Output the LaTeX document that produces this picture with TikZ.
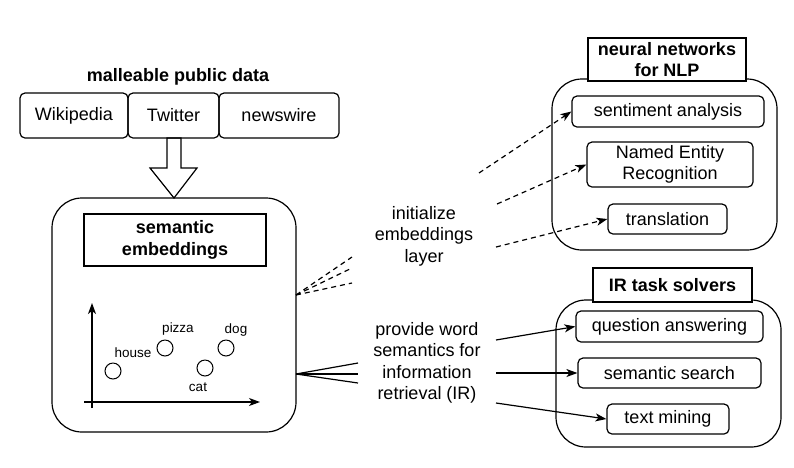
\documentclass[tikz,border=0pt]{standalone}
\usepackage{fontspec}
\setmainfont{Liberation Sans}
\usepackage{tikz}
\usetikzlibrary{calc,arrows.meta}

\begin{document}
\begin{tikzpicture}[x=1pt,y=-1pt,line width=1.2pt]
        \tikzstyle{every node}=[font=\fontsize{18}{21.5}\selectfont,inner sep=0pt,align=center]
        \tikzstyle{box}=[draw,rounded corners=5pt]
        \tikzstyle{title}=[draw,fill=white,font=\fontsize{18}{21.5}\selectfont\bfseries]
        \tikzstyle{tag}=[font=\fontsize{13.5}{16}\selectfont]
        \tikzstyle{word}=[draw,circle,minimum size=16pt,line width=1pt]
        \tikzstyle{arr}=[-{Stealth[length=11pt,width=8pt,inset=3pt]}]
        \tikzstyle{dashline}=[dash pattern=on 5pt off 4pt]
        \useasboundingbox (0,0) rectangle (794,467);
        % public data
        \node[font=\fontsize{18}{21.5}\selectfont\bfseries] (data) at (178,77) {malleable public data};
        \node[box,minimum width=108pt,minimum height=45pt] (wiki) at (74,115.5) {Wikipedia};
        \node[box,minimum width=91pt,minimum height=45pt] (twit) at (173.5,115.5) {Twitter};
        \node[box,minimum width=120pt,minimum height=45pt] (news) at (279,115.5) {newswire};
        \draw[line join=miter] (167,138) -- (181,138) -- (181,168) -- (197,168) -- (174,198)
            -- (150,168) -- (167,168) -- cycle;
        % embeddings
        \draw[rounded corners=30pt] (52,198) rectangle (296,432);
        \node[title,minimum width=182pt,minimum height=52pt] (emb) at (175,240) {semantic\\embeddings};
        \draw[arr] (92,408) -- (92,303);
        \draw[arr] (84,402) -- (260,402);
        \node[word] (house) at (113,371) {};
        \node[word] (pizza) at (165,348) {};
        \node[word] (cat) at (205,368) {};
        \node[word] (dog) at (226,348) {};
        \node[tag] at (133,353) {house};
        \node[tag] at (178,329) {pizza};
        \node[tag] at (198,387) {cat};
        \node[tag] at (236,330) {dog};
        % neural networks
        \draw[rounded corners=30pt] (552,79) rectangle (777,250);
        \node[title,minimum width=158pt,minimum height=43pt] (nn) at (667,59.5) {neural networks\\for NLP};
        \node[box,minimum width=192pt,minimum height=31pt] (sent) at (668,111.5) {sentiment analysis};
        \node[box,minimum width=166pt,minimum height=45pt] (ner) at (670,164.5) {Named Entity\\Recognition};
        \node[box,minimum width=119pt,minimum height=30pt] (trans) at (667.5,219) {translation};
        % IR task solvers
        \draw[rounded corners=30pt] (556,300) rectangle (781,447);
        \node[title,minimum width=159pt,minimum height=34pt] (ir) at (672.5,285) {IR task solvers};
        \node[box,minimum width=187pt,minimum height=31pt] (qa) at (669.5,326.5) {question answering};
        \node[box,minimum width=183pt,minimum height=30pt] (ss) at (669.5,373) {semantic search};
        \node[box,minimum width=122pt,minimum height=30pt] (tm) at (668,419) {text mining};
        % connectors
        \node (init) at (424,236) {initialize\\embeddings\\layer};
        \node (prov) at (427,363) {provide word\\semantics for\\information\\retrieval (IR)};
        \coordinate (e1) at (296,295);
        \coordinate (d1) at (352,257);
        \coordinate (d2) at (352,268);
        \coordinate (d3) at (352,283);
        \draw[dashline] (e1)--(d1);
        \draw[dashline] (e1)--(d2);
        \draw[dashline] (e1)--(d3);
        \coordinate (a1) at (479,173);
        \coordinate (a2) at (497,204);
        \coordinate (a3) at (496,247);
        \draw[dashline,arr] (a1)--(sent.west);
        \draw[dashline,arr] (a2)--(ner.west);
        \draw[dashline,arr] (a3)--(trans.west);
        \coordinate (e2) at (296,374);
        \coordinate (s1) at (358,363);
        \coordinate (s2) at (358,374);
        \coordinate (s3) at (358,383);
        \draw (e2)--(s1);
        \draw (e2)--(s2);
        \draw (e2)--(s3);
        \coordinate (b1) at (496,340);
        \coordinate (b2) at (496,373);
        \coordinate (b3) at (496,403);
        \draw[arr] (b1)--(qa.west);
        \draw[arr] (b2)--(ss.west);
        \draw[arr] (b3)--(tm.west);
    \end{tikzpicture}
\end{document}
